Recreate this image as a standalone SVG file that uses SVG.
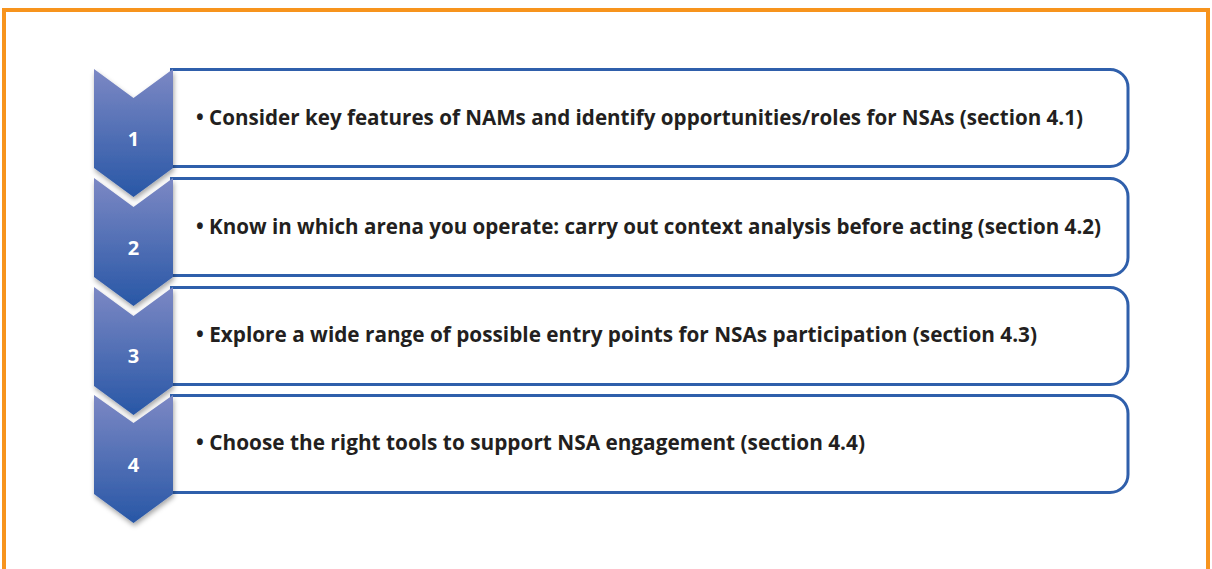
<svg xmlns="http://www.w3.org/2000/svg" width="1212" height="569" viewBox="0 0 1212 569">
<style>
.box{fill:#fff;stroke:#2f5fab;stroke-width:3}
.chev{fill:url(#g);filter:url(#sh)}
.txt{font-family:"Open Sans","Liberation Sans",sans-serif;font-weight:bold;font-size:21px;fill:#231f20}
.num{font-family:"Open Sans","Liberation Sans",sans-serif;font-weight:bold;font-size:20px;fill:#fff;text-anchor:middle}
</style>
<defs>
<linearGradient id="g" x1="0" y1="0" x2="0" y2="1">
<stop offset="0" stop-color="#7c88c4"/>
<stop offset="1" stop-color="#2857a6"/>
</linearGradient>
<filter id="sh" x="-30%" y="-20%" width="160%" height="150%">
<feDropShadow dx="1" dy="3" stdDeviation="2.5" flood-color="#000" flood-opacity="0.35"/>
</filter>
</defs>
<rect x="4" y="10" width="1204" height="620" fill="#fff" stroke="#f7941d" stroke-width="4"/>
<g id="step1">
<path class="box" d="M170,69.5 H1110 A18,18 0 0 1 1128,87.5 V148.5 A18,18 0 0 1 1110,166.5 H170"/>
<path class="chev" d="M94,69 L133.5,98 L173,69 L173,168 L133.5,197 L94,168 Z"/>
<text class="num" x="133.5" y="146">1</text>
<text class="txt" x="196" y="125" textLength="887" lengthAdjust="spacingAndGlyphs">• Consider key features of NAMs and identify opportunities/roles for NSAs (section 4.1)</text>
</g>
<g id="step2">
<path class="box" d="M170,178.5 H1110 A18,18 0 0 1 1128,196.5 V257.5 A18,18 0 0 1 1110,275.5 H170"/>
<path class="chev" d="M94,178 L133.5,207 L173,178 L173,277 L133.5,306 L94,277 Z"/>
<text class="num" x="133.5" y="255">2</text>
<text class="txt" x="196" y="234" textLength="905" lengthAdjust="spacingAndGlyphs">• Know in which arena you operate: carry out context analysis before acting (section 4.2)</text>
</g>
<g id="step3">
<path class="box" d="M170,287.5 H1110 A18,18 0 0 1 1128,305.5 V366.5 A18,18 0 0 1 1110,384.5 H170"/>
<path class="chev" d="M94,287 L133.5,316 L173,287 L173,386 L133.5,415 L94,386 Z"/>
<text class="num" x="133.5" y="363">3</text>
<text class="txt" x="196" y="342" textLength="841" lengthAdjust="spacingAndGlyphs">• Explore a wide range of possible entry points for NSAs participation (section 4.3)</text>
</g>
<g id="step4">
<path class="box" d="M170,395.5 H1110 A18,18 0 0 1 1128,413.5 V474.5 A18,18 0 0 1 1110,492.5 H170"/>
<path class="chev" d="M94,395 L133.5,423 L173,395 L173,494 L133.5,523 L94,494 Z"/>
<text class="num" x="133.5" y="472">4</text>
<text class="txt" x="196" y="450" textLength="669" lengthAdjust="spacingAndGlyphs">• Choose the right tools to support NSA engagement (section 4.4)</text>
</g>
<g id="connectors"/>
</svg>
